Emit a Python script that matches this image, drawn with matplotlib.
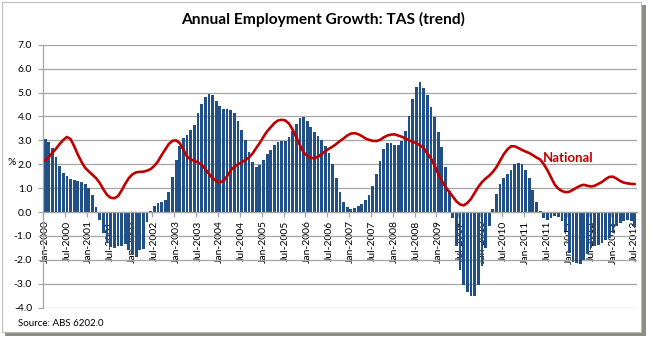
import numpy as np
import matplotlib
matplotlib.use("Agg")
import matplotlib.pyplot as plt
from matplotlib.patches import Rectangle

plt.rcParams['font.family'] = ['Lato', 'DejaVu Sans']

# Monthly TAS annual employment growth (trend), Jan-2000 .. Jul-2013
tas = [
    3.05, 2.93, 2.67, 2.30, 1.92, 1.64, 1.49, 1.40, 1.35, 1.29, 1.24, 1.17,
    0.99, 0.70, 0.21, -0.35, -0.89, -1.29, -1.46, -1.50, -1.43, -1.40, -1.35, -1.60,
    -1.75, -1.88, -1.58, -1.55, -0.40, 0.04, 0.27, 0.36, 0.41, 0.51, 0.82, 1.46,
    2.18, 2.76, 3.08, 3.22, 3.42, 3.66, 4.13, 4.54, 4.80, 4.93, 4.90, 4.66,
    4.43, 4.30, 4.30, 4.27, 4.13, 3.82, 3.43, 3.00, 2.50, 2.11, 1.90, 1.96,
    2.18, 2.43, 2.60, 2.79, 2.93, 2.96, 2.97, 3.12, 3.40, 3.68, 3.93, 3.99,
    3.82, 3.57, 3.36, 3.18, 3.01, 2.78, 2.49, 2.00, 1.44, 0.86, 0.42, 0.21,
    0.14, 0.19, 0.24, 0.33, 0.50, 0.72, 1.10, 1.58, 2.15, 2.64, 2.88, 2.88,
    2.82, 2.80, 2.99, 3.40, 4.03, 4.71, 5.24, 5.42, 5.17, 4.88, 4.38, 3.96,
    3.36, 2.71, 1.90, 0.90, -0.25, -1.43, -2.44, -3.06, -3.35, -3.51, -3.49, -3.03,
    -2.26, -1.50, -0.60, 0.14, 0.75, 1.18, 1.43, 1.58, 1.76, 1.99, 2.07, 1.99,
    1.76, 1.42, 0.93, 0.42, 0.03, -0.25, -0.32, -0.25, -0.18, -0.21, -0.39, -0.81,
    -1.71, -2.08, -2.15, -2.19, -2.01, -1.74, -1.50, -1.40, -1.36, -1.29, -1.18, -1.08,
    -0.88, -0.60, -0.46, -0.39, -0.32, -0.39, -0.63,
]

# National annual employment growth (trend)
national = [
    2.15, 2.30, 2.48, 2.65, 2.85, 3.02, 3.14, 3.05, 2.75, 2.40, 2.10, 1.85,
    1.70, 1.56, 1.42, 1.22, 0.95, 0.72, 0.60, 0.58, 0.66, 0.90, 1.18, 1.42,
    1.58, 1.66, 1.68, 1.69, 1.73, 1.80, 1.93, 2.12, 2.38, 2.62, 2.85, 2.98,
    3.00, 2.88, 2.60, 2.32, 2.20, 2.14, 2.08, 1.98, 1.80, 1.60, 1.42, 1.30,
    1.25, 1.30, 1.50, 1.75, 1.90, 2.00, 2.08, 2.18, 2.28, 2.45, 2.68, 2.90,
    3.15, 3.38, 3.55, 3.72, 3.83, 3.86, 3.83, 3.70, 3.45, 3.12, 2.80, 2.50,
    2.35, 2.27, 2.25, 2.32, 2.43, 2.55, 2.65, 2.74, 2.85, 2.97, 3.08, 3.20,
    3.28, 3.30, 3.26, 3.18, 3.08, 3.02, 2.98, 2.97, 3.02, 3.12, 3.20, 3.24,
    3.25, 3.20, 3.15, 3.08, 3.00, 2.94, 2.88, 2.80, 2.68, 2.45, 2.25, 1.95,
    1.60, 1.30, 1.05, 0.85, 0.65, 0.45, 0.32, 0.28, 0.38, 0.55, 0.80, 1.05,
    1.25, 1.40, 1.52, 1.68, 1.88, 2.15, 2.42, 2.62, 2.75, 2.75, 2.68, 2.60,
    2.53, 2.47, 2.38, 2.28, 2.20, 2.00, 1.75, 1.45, 1.15, 0.98, 0.88, 0.83,
    0.85, 0.93, 1.02, 1.10, 1.14, 1.10, 1.07, 1.10, 1.18, 1.26, 1.38, 1.47,
    1.48, 1.40, 1.30, 1.23, 1.20, 1.18, 1.17,
]

tick_labels = [
    "Jan-2000", "Jul-2000", "Jan-2001", "Jul-2001", "Jan-2002", "Jul-2002",
    "Jan-2003", "Jul-2003", "Jan-2004", "Jul-2004", "Jan-2005", "Jul-2005",
    "Jan-2006", "Jul-2006", "Jan-2007", "Jul-2007", "Jan-2008", "Jul-2008",
    "Jan-2009", "Jul-2009", "Jan-2010", "Jul-2010", "Jan-2011", "Jul-2011",
    "Jan-2012", "Jul-2012", "Jan-2013", "Jul-2013",
]
y_ticks = [-4.0, -3.0, -2.0, -1.0, 0.0, 1.0, 2.0, 3.0, 4.0, 5.0, 6.0, 7.0]

title = "Annual Employment Growth: TAS (trend)"
series_label = "National"
source = "Source: ABS 6202.0"

W, H = 653, 337
fig = plt.figure(figsize=(W / 100, H / 100), dpi=100, facecolor='white')

def px(x, y):
    return x / W, 1 - y / H

# outer frame with shadow
sx, sy = px(5, 336)
fig.add_artist(Rectangle((sx, sy), (646 - 5) / W, (336 - 5) / H, transform=fig.transFigure,
                         facecolor='#8E8E80', edgecolor='none', zorder=-3))
fx, fy = px(2, 332)
fig.add_artist(Rectangle((fx, fy), (641 - 2) / W, (332 - 2) / H, transform=fig.transFigure,
                         facecolor='white', edgecolor='#BDBDBD', lw=0.8, zorder=-2))

left, top, right, bottom = 43.3, 44.7, 636.6, 307.7
ax = fig.add_axes([left / W, 1 - bottom / H, (right - left) / W, (bottom - top) / H])
ax.set_facecolor('none')

x = np.arange(len(tas))
ax.bar(x, tas, width=0.76, color='#214F88', zorder=2, linewidth=0)
ax.plot(x, national, color='#C00000', lw=1.9, zorder=3, solid_capstyle='round')

ax.set_xlim(-0.5, len(tas) - 0.5)
ax.set_ylim(-4, 7)

grid_c = '#A6A6A6'
ax.set_yticks(y_ticks)
ax.set_yticklabels([f"{v:.1f}" for v in y_ticks], fontsize=7.5)
ax.yaxis.grid(True, color=grid_c, lw=0.9, zorder=0)
ax.set_axisbelow(True)

for s in ('top', 'right'):
    ax.spines[s].set_visible(False)
ax.spines['left'].set_color(grid_c)
ax.spines['bottom'].set_color(grid_c)
ax.spines['bottom'].set_position(('data', 0))
ax.spines['left'].set_linewidth(0.9)
ax.spines['bottom'].set_linewidth(0.9)

ax.tick_params(axis='y', length=3.6, width=0.9, color=grid_c, pad=4.5, labelcolor='black')

ax.set_xticks(np.arange(-0.5, len(tas), 6))
ax.set_xticklabels([])
ax.set_xticks(np.arange(0, len(tas), 6), minor=True)
ax.set_xticklabels(tick_labels, minor=True, rotation=90, fontsize=7.5)
ax.tick_params(axis='x', which='major', length=3.6, width=0.9, color=grid_c, direction='out')
ax.tick_params(axis='x', which='minor', length=0, pad=6)
for lab in ax.get_xticklabels(minor=True):
    lab.set_verticalalignment('top')
    lab.set_horizontalalignment('center')

ax.text(136.7, 2.27, series_label, color='#C00000', fontsize=9.5, fontweight='bold',
        ha='left', va='center', zorder=4)

tx, ty = px(323, 19)
fig.text(tx, ty, title, fontsize=11.2, fontweight='bold', ha='center', va='center')
px_, py_ = px(11.7, 162.7)
fig.text(px_, py_, "%", fontsize=7.5, ha='center', va='center')
sx_, sy_ = px(18, 323)
fig.text(sx_, sy_, source, fontsize=7, ha='left', va='center')

fig.savefig("out.png", dpi=100, facecolor='white')
